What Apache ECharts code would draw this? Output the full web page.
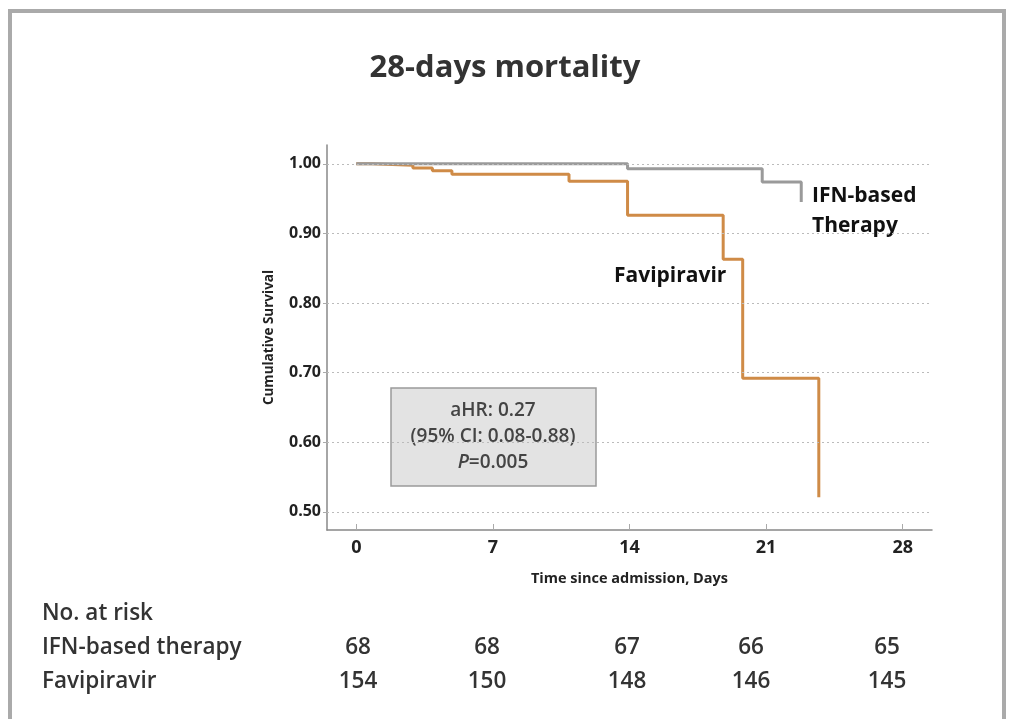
<!DOCTYPE html>
<html>
<head>
<meta charset="utf-8">
<script src="https://cdn.jsdelivr.net/npm/echarts@6/dist/echarts.min.js"></script>
<style>
  html, body { margin: 0; padding: 0; background: #fff; }
  #main { width: 1010px; height: 719px; }
</style>
</head>
<body>
<div id="main"></div>
<script>
// survival steps: [day, cumulative survival]
const ifnSteps = [[0, 1.0], [13.9, 0.993], [20.8, 0.974], [22.8, 0.945]];
const faviSteps = [[0, 1.0], [0.8, 0.998], [2.9, 0.994], [3.9, 0.99], [4.9, 0.985],
  [10.9, 0.975], [13.9, 0.926], [18.8, 0.863], [19.8, 0.692], [23.7, 0.521]];

const xTicks = [0, 7, 14, 21, 28];
const yTicks = [0.5, 0.6, 0.7, 0.8, 0.9, 1.0];

const riskLabels = ["No. at risk", "IFN-based therapy", "Favipiravir"];
const ifnAtRisk = [68, 68, 67, 66, 65];
const faviAtRisk = [154, 150, 148, 146, 145];

const FONT = "'Open Sans', Lato, sans-serif";
const riskCols = [358, 487, 627, 751, 887];

const chart = echarts.init(document.getElementById("main"));

const riskTexts = [];
riskLabels.forEach((t, i) => {
  riskTexts.push({
    type: "text", left: 42, y: 614 + i * 34,
    style: { text: t, font: "600 22.5px " + FONT, fill: "#333", verticalAlign: "middle" }
  });
});
[ifnAtRisk, faviAtRisk].forEach((row, r) => {
  row.forEach((v, i) => {
    riskTexts.push({
      type: "text", x: riskCols[i], y: 648 + r * 34,
      style: { text: String(v), font: "600 22.5px " + FONT, fill: "#333",
        align: "center", verticalAlign: "middle" }
    });
  });
});

chart.setOption({
  animation: false,
  title: {
    text: "28-days mortality",
    left: "center", top: 48,
    textStyle: { fontFamily: FONT, fontSize: 31, fontWeight: "bold", color: "#333" }
  },
  grid: { left: 327, top: 145, right: 78, bottom: 189 },
  xAxis: {
    type: "value", min: -1.5, max: 29.5,
    name: "Time since admission, Days",
    nameLocation: "middle", nameGap: 41,
    nameTextStyle: { fontFamily: FONT, fontSize: 14.5, fontWeight: "bold", color: "#222" },
    axisLine: { onZero: false, lineStyle: { color: "#888", width: 1.5 } },
    axisTick: { inside: true, length: 6, customValues: xTicks, lineStyle: { color: "#aaa" } },
    axisLabel: { customValues: xTicks, fontFamily: FONT, fontSize: 18, fontWeight: "bold",
      color: "#222", margin: 9 },
    splitLine: { show: false }
  },
  yAxis: {
    type: "value", min: 0.474, max: 1.027,
    name: "Cumulative Survival",
    nameLocation: "middle", nameGap: 51, nameRotate: 90,
    nameTextStyle: { fontFamily: FONT, fontSize: 13.5, fontWeight: "bold", color: "#222" },
    axisLine: { show: true, onZero: false, lineStyle: { color: "#888", width: 1.5 } },
    axisTick: { show: true, length: 4, customValues: yTicks, lineStyle: { color: "#aaa" } },
    axisLabel: { customValues: yTicks, fontFamily: FONT, fontSize: 16, fontWeight: "bold",
      color: "#222", margin: 6, formatter: v => v.toFixed(2) },
    splitLine: { show: false }
  },
  series: [
    {
      name: "Favipiravir", type: "line", step: "end", data: faviSteps,
      showSymbol: false, lineStyle: { color: "#cf8b47", width: 3 }, z: 3,
      markLine: {
        silent: true, symbol: "none", label: { show: false },
        lineStyle: { type: [2, 3], color: "#bbb", width: 1 },
        data: yTicks.map(v => ({ yAxis: v }))
      }
    },
    {
      name: "IFN-based therapy", type: "line", step: "end", data: ifnSteps,
      showSymbol: false, lineStyle: { color: "#9a9a9a", width: 3 }, z: 4
    }
  ],
  graphic: [
    {
      type: "rect", shape: { x: 10, y: 11, width: 994, height: 760 },
      style: { fill: "none", stroke: "#aaa", lineWidth: 4 }, silent: true
    },
    {
      type: "text", left: 812, top: 181,
      style: { text: "IFN-based\nTherapy", font: "bold 21px " + FONT, fill: "#111", lineHeight: 30 }
    },
    {
      type: "text", left: 614, top: 266,
      style: { text: "Favipiravir", font: "bold 21px " + FONT, fill: "#111" }
    },
    {
      type: "rect", shape: { x: 391, y: 388, width: 205, height: 98 },
      style: { fill: "#e3e3e3", stroke: "#9a9a9a", lineWidth: 1.5 }
    },
    {
      type: "text", x: 493, y: 411,
      style: { text: "aHR: 0.27", font: "600 19px " + FONT, fill: "#444",
        align: "center", verticalAlign: "middle" }
    },
    {
      type: "text", x: 493, y: 437,
      style: { text: "(95% CI: 0.08-0.88)", font: "600 19px " + FONT, fill: "#444",
        align: "center", verticalAlign: "middle" }
    },
    {
      type: "text", x: 493, y: 463,
      style: {
        text: "{i|P}=0.005", font: "600 19px " + FONT, fill: "#444",
        align: "center", verticalAlign: "middle",
        rich: { i: { fontStyle: "italic", fontWeight: 600, fontSize: 19, fontFamily: FONT, fill: "#444" } }
      }
    }
  ].concat(riskTexts)
});
</script>
</body>
</html>
